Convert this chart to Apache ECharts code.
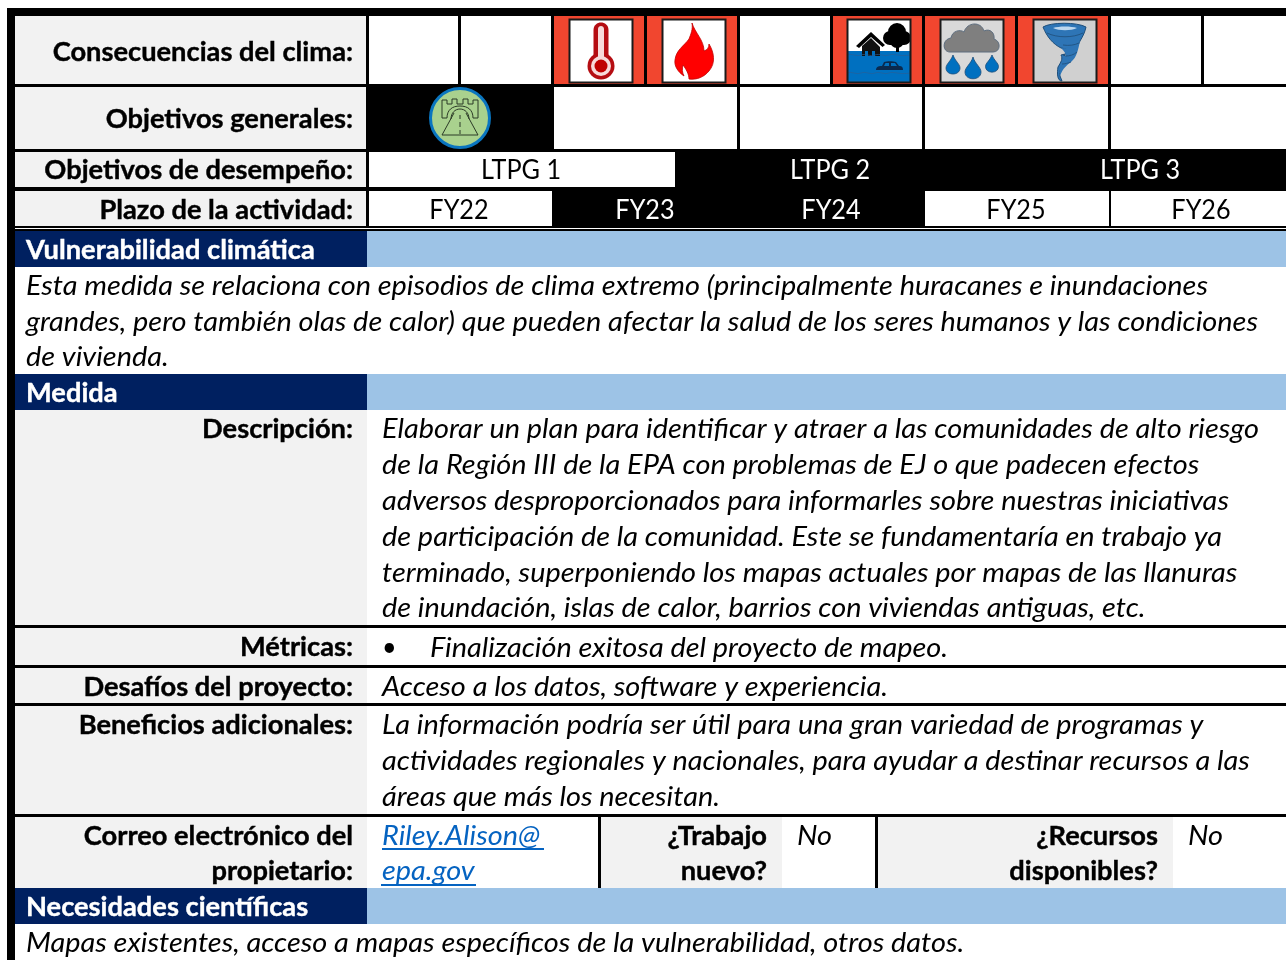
<!DOCTYPE html>
<html>
<head>
<meta charset="utf-8">
<title>Consecuencias del clima</title>
<script src="https://cdn.jsdelivr.net/npm/echarts@6/dist/echarts.min.js"></script>
<style>
html, body { margin: 0; padding: 0; background: #fff; }
#chart { width: 1286px; height: 960px; }
</style>
</head>
<body>
<div id="chart"></div>
<script>
// table content
const rowLabels = ['Consecuencias del clima:', 'Objetivos generales:', 'Objetivos de desempeño:', 'Plazo de la actividad:'];
const climateIcons = [null, null, 'thermometer', 'flame', null, 'flood', 'rain', 'tornado', null, null];
const goalFlags = [1, 0, 0, 0, 0];
const ltpgLabels = ['LTPG 1', 'LTPG 2', 'LTPG 3'];
const ltpgFlags = [0, 1, 1];
const fyLabels = ['FY22', 'FY23', 'FY24', 'FY25', 'FY26'];
const fyFlags = [0, 1, 1, 0, 0];
const sectionTitles = ['Vulnerabilidad climática', 'Medida', 'Necesidades científicas'];
const vulnerabilityLines = [
  'Esta medida se relaciona con episodios de clima extremo (principalmente huracanes e inundaciones',
  'grandes, pero también olas de calor) que pueden afectar la salud de los seres humanos y las condiciones',
  'de vivienda.'
];
const detailLabels = ['Descripción:', 'Métricas:', 'Desafíos del proyecto:', 'Beneficios adicionales:'];
const descriptionLines = [
  'Elaborar un plan para identificar y atraer a las comunidades de alto riesgo',
  'de la Región III de la EPA con problemas de EJ o que padecen efectos',
  'adversos desproporcionados para informarles sobre nuestras iniciativas',
  'de participación de la comunidad. Este se fundamentaría en trabajo ya',
  'terminado, superponiendo los mapas actuales por mapas de las llanuras',
  'de inundación, islas de calor, barrios con viviendas antiguas, etc.'
];
const metricLine = 'Finalización exitosa del proyecto de mapeo.';
const challengeLine = 'Acceso a los datos, software y experiencia.';
const benefitLines = [
  'La información podría ser útil para una gran variedad de programas y',
  'actividades regionales y nacionales, para ayudar a destinar recursos a las',
  'áreas que más los necesitan.'
];
const ownerLabels = ['Correo electrónico del', 'propietario:'];
const ownerLinks = ['Riley.Alison@', 'epa.gov'];
const newWorkLabels = ['¿Trabajo', 'nuevo?'];
const resourceLabels = ['¿Recursos', 'disponibles?'];
const answers = ['No', 'No'];
const scienceLine = 'Mapas existentes, acceso a mapas específicos de la vulnerabilidad, otros datos.';

// layout, in axis units
const W = 1286, H = 960;
const climateCols = [[369, 458], [461, 551], [554, 644], [647, 737], [740, 830], [833, 922], [925, 1015], [1018, 1108], [1111, 1201], [1204, 1286]];
const goalCols = [[366, 554], [554, 737], [740, 922], [925, 1108], [1111, 1286]];
const ltpgCols = [[369, 675], [675, 980], [985, 1286]];
const ltpgCenters = [521, 830, 1140];
const fyCols = [[369, 552], [552, 738], [738, 925], [925, 1109], [1111, 1286]];
const fyCenters = [459, 645, 831, 1016, 1201];
const rows = [[16, 84], [87, 149], [152, 187], [191, 226]];
const rowCenters = [53, 120, 171, 211];
const iconBoxes = { thermometer: 569, flame: 662, flood: 847, rain: 940, tornado: 1033 };

const GREY = '#f2f2f2', NAVY = '#002060', BLUE = '#9dc3e6', RED = '#f1462f', WHITE = '#ffffff', LINK = '#0563c1';

const cells = [];
const addCell = (x0, y0, x1, y1, color) => cells.push([x0, y0, x1, y1, color]);

addCell(7, 8, W, H, '#000000');
rows.forEach(r => addCell(15, r[0], 366, r[1], GREY));
climateCols.forEach((c, i) => addCell(c[0], rows[0][0], c[1], rows[0][1], climateIcons[i] ? RED : WHITE));
goalCols.forEach((c, i) => { if (!goalFlags[i]) addCell(c[0], rows[1][0], c[1], rows[1][1], WHITE); });
ltpgCols.forEach((c, i) => { if (!ltpgFlags[i]) addCell(c[0], rows[2][0], c[1], rows[2][1], WHITE); });
fyCols.forEach((c, i) => { if (!fyFlags[i]) addCell(c[0], rows[3][0], c[1], rows[3][1], WHITE); });
addCell(15, 228, W, 229, WHITE);
[[231, 267], [374, 410], [888, 924]].forEach(h => {
  addCell(15, h[0], 367, h[1], NAVY);
  addCell(367, h[0], W, h[1], BLUE);
});
addCell(15, 267, W, 374, WHITE);
[[410, 625], [628, 665], [668, 703], [706, 814]].forEach(r => {
  addCell(15, r[0], 367, r[1], GREY);
  addCell(367, r[0], W, r[1], WHITE);
});
addCell(15, 817, 367, 888, GREY);
addCell(367, 817, 598, 888, WHITE);
addCell(601, 817, 782, 888, GREY);
addCell(782, 817, 875, 888, WHITE);
addCell(878, 817, 1173, 888, GREY);
addCell(1173, 817, W, 888, WHITE);
addCell(15, 924, W, H, WHITE);
// link underlines
addCell(382, 848, 544, 850, LINK);
addCell(381, 884, 476, 886, LINK);

const texts = [];
const addText = (x, y, text, kind, color, align) => texts.push({ x, y, text, kind, color: color || '#000000', align: align || 'left' });

rowLabels.forEach((t, i) => addText(353, rowCenters[i], t, 'bold', null, 'right'));
ltpgLabels.forEach((t, i) => addText(ltpgCenters[i], 171, t, 'plain', ltpgFlags[i] ? WHITE : null, 'center'));
fyLabels.forEach((t, i) => addText(fyCenters[i], 211, t, 'plain', fyFlags[i] ? WHITE : null, 'center'));
[251, 394, 908].forEach((y, i) => addText(26, y, sectionTitles[i], 'bold', WHITE));
[287, 323, 358].forEach((y, i) => addText(26, y, vulnerabilityLines[i], 'italic'));
[430, 648, 688, 726].forEach((y, i) => addText(353, y, detailLabels[i], 'bold', null, 'right'));
[430, 466, 502, 538, 574, 609].forEach((y, i) => addText(382, y, descriptionLines[i], 'italic'));
addText(382, 648, '•', 'plain');
addText(430, 649, metricLine, 'italic');
addText(382, 688, challengeLine, 'italic');
[726, 762, 798].forEach((y, i) => addText(382, y, benefitLines[i], 'italic'));
[837, 872].forEach((y, i) => {
  addText(353, y, ownerLabels[i], 'bold', null, 'right');
  addText(382, y, ownerLinks[i], 'italic', LINK);
  addText(767, y, newWorkLabels[i], 'bold', null, 'right');
  addText(1158, y, resourceLabels[i], 'bold', null, 'right');
});
addText(797, 837, answers[0], 'italic');
addText(1188, 837, answers[1], 'italic');
addText(26, 944, scienceLine, 'italic');

const fonts = {
  bold: { font: 'bold 27px Lato', scaleX: 1.01, stroke: 0.4, dy: -1 },
  plain: { font: '26px Lato', scaleX: 0.97, stroke: 0, dy: 0 },
  italic: { font: 'italic 27px Lato', scaleX: 1.07, stroke: 0, dy: -1 }
};

// icons, drawn in a 64x64 box
const circle = (cx, cy, r) => `M${cx - r} ${cy}A${r} ${r} 0 1 0 ${cx + r} ${cy}A${r} ${r} 0 1 0 ${cx - r} ${cy}Z`;
const drop = (cx, top, h, r) => `M${cx} ${top}C${cx + 2} ${top + h * 0.3} ${cx + r} ${top + h * 0.45} ${cx + r} ${top + h - r}C${cx + r} ${top + h + 1} ${cx - r} ${top + h + 1} ${cx - r} ${top + h - r}C${cx - r} ${top + h * 0.45} ${cx - 2} ${top + h * 0.3} ${cx} ${top}Z`;

const iconParts = {
  thermometer: {
    bg: WHITE,
    parts: [
      { d: 'M24.5 11C24.5 1 39.5 1 39.5 11L39.5 36L24.5 36Z', fill: '#b50d12' },
      { d: circle(32, 47, 13.5), fill: '#b50d12' },
      { d: 'M29 10C29 6 35 6 35 10L35 38L29 38Z', fill: '#f7dada' },
      { d: circle(32, 47, 10), fill: '#f7dada' },
      { d: circle(32, 47, 6.5), fill: '#c00000' }
    ]
  },
  flame: {
    bg: WHITE,
    parts: [
      { d: 'M30 4C33 14 42 21 42 32C45 31 47 29 47 25C52 33 54 44 47 52C42 58 35 61 27 60C27 55 24 50 21 46C20 50 20 53 22 57C16 53 12 47 13 41C14 31 22 27 27 20C29 15 31 10 30 4Z', fill: '#ff0000', stroke: '#c00000', lw: 0.8 }
    ]
  },
  flood: {
    bg: WHITE,
    parts: [
      { d: 'M0 32L64 32L64 64L0 64Z', fill: '#0070c0' },
      { d: 'M49 20L52 20L52 33L49 33Z', fill: '#000000' },
      { d: circle(43, 19, 7) + circle(57, 19, 7) + circle(50, 13, 9) + circle(50, 22, 7), fill: '#000000' },
      { d: 'M24 13L38 26L35.5 28L24 18L12 29L9 27Z', fill: '#000000' },
      { d: 'M15 27L24 19L33 28L33 37L28 37L28 32L25 32L25 37L21 37L21 32L18 32L18 37L15 37Z', fill: '#111111' },
      { d: 'M29 51C29 47 33 47 35 47L37 43C40 42 46 42 49 43L52 47C55 47 56 48 56 51Z', fill: '#0a2a4f' },
      { d: 'M38.5 44L42 44L42 47L37 47ZM44 44L48 44L50 47L44 47Z', fill: '#0070c0' },
      { d: 'M0 36C5 34 9 38 14 36C19 34 23 38 28 36C33 34 37 38 42 36C47 34 51 38 64 36', stroke: '#2a5f95', lw: 0.7 },
      { d: 'M0 54C5 52 9 56 14 54C19 52 23 56 28 54C33 52 37 56 42 54C47 52 51 56 64 54', stroke: '#2a5f95', lw: 0.7 }
    ]
  },
  rain: {
    bg: '#d9d9d9',
    parts: [
      { d: 'M10 33C2 33 2 20 11 19C12 12 20 10 24 13C27 3 41 2 44 12C50 9 55 14 54 20C61 22 61 33 53 33Z', fill: '#7f7f7f', stroke: '#5f6f80', lw: 1 },
      { d: drop(13, 36, 20, 7), fill: '#0070c0', stroke: '#1f4e79', lw: 0.8 },
      { d: drop(33, 38, 23, 8), fill: '#0070c0', stroke: '#1f4e79', lw: 0.8 },
      { d: drop(52, 36, 18, 6.5), fill: '#0070c0', stroke: '#1f4e79', lw: 0.8 }
    ]
  },
  tornado: {
    bg: '#d0d0d0',
    parts: [
      { d: 'M10 8C14 18 20 25 28 29C40 31 36 34 30 36C37 38 40 40 34 45C29 48 25 52 27 57L29 62C24 62 24 54 25 48C28 43 30 40 28 36C38 34 44 30 47 22C50 17 52 13 53 8C44 3 18 3 10 8Z', fill: '#2e75b6', stroke: '#1f4e79', lw: 1 },
      { d: 'M28 29C34 30 40 28 47 22C45 31 44 38 38 43C34 46 30 49 27 57C25 51 29 45 32 41C35 37 32 33 28 29Z', fill: '#2e75b6' },
      { d: 'M20 9C26 7 38 7 44 9C38 12 26 12 20 9Z', fill: '#bdd7ee' },
      { d: 'M14 14C24 19 40 19 50 14', stroke: '#1f4e79', lw: 0.8 },
      { d: 'M30 26C36 27 42 26 46 24M33 37C36 37 41 36 44 33M29 45C32 45 35 44 38 43', stroke: '#1f4e79', lw: 0.8 }
    ]
  }
};

// emblem, drawn around its centre
const emblemParts = [
  { d: circle(0, 0, 29.5), fill: '#a9d18e', stroke: '#0a75bf', lw: 3 },
  { d: 'M-18 0L-18 -18L-13 -18L-13 -14L-8 -14L-8 -19L-3 -19L-3 -14L3 -14L3 -19L8 -19L8 -14L13 -14L13 -18L18 -18L18 0L13 0C13 -8 8 -12 0 -12C-8 -12 -13 -8 -13 0Z', stroke: '#2b3a26', lw: 1 },
  { d: 'M-9 1C-9 -5 -5 -9 0 -9C5 -9 9 -5 9 1', stroke: '#2b3a26', lw: 1 },
  { d: 'M-6 -5L-18 17L18 17L6 -5', stroke: '#2b3a26', lw: 1 },
  { d: 'M0 -3L0 1M0 4L0 9M0 12L0 16', stroke: '#2b3a26', lw: 1 }
];

const toChildren = parts => parts.map(p => ({
  type: 'path',
  shape: { pathData: p.d },
  style: { fill: p.fill || 'none', stroke: p.stroke || 'none', lineWidth: p.lw || 0 }
}));

const iconNames = Object.keys(iconBoxes);

const option = {
  animation: false,
  grid: { left: 0, right: 0, top: 0, bottom: 0 },
  xAxis: { type: 'value', min: 0, max: W, show: false },
  yAxis: { type: 'value', min: 0, max: H, inverse: true, show: false },
  series: [
    {
      type: 'custom',
      name: 'celdas',
      silent: true,
      clip: false,
      encode: { x: [0, 2], y: [1, 3] },
      data: cells.map(c => c.slice(0, 4)),
      renderItem: (params, api) => {
        const p0 = api.coord([api.value(0), api.value(1)]);
        const p1 = api.coord([api.value(2), api.value(3)]);
        return {
          type: 'rect',
          shape: { x: p0[0], y: p0[1], width: p1[0] - p0[0], height: p1[1] - p0[1] },
          style: { fill: cells[params.dataIndex][4] }
        };
      }
    },
    {
      type: 'custom',
      name: 'iconos',
      silent: true,
      clip: false,
      encode: { x: 0, y: 1 },
      data: iconNames.map(n => [iconBoxes[n], 19]),
      renderItem: (params, api) => {
        const p = api.coord([api.value(0), api.value(1)]);
        const icon = iconParts[iconNames[params.dataIndex]];
        return {
          type: 'group',
          x: p[0],
          y: p[1],
          children: [
            { type: 'rect', shape: { x: 0, y: 0, width: 64, height: 64 }, style: { fill: icon.bg } }
          ].concat(toChildren(icon.parts), [
            { type: 'rect', shape: { x: 0.5, y: 0.5, width: 63, height: 63 }, style: { fill: 'none', stroke: '#1a1a1a', lineWidth: 2 } }
          ])
        };
      }
    },
    {
      type: 'custom',
      name: 'emblema',
      silent: true,
      clip: false,
      encode: { x: 0, y: 1 },
      data: [[460, 118]],
      renderItem: (params, api) => {
        const p = api.coord([api.value(0), api.value(1)]);
        return { type: 'group', x: p[0], y: p[1], children: toChildren(emblemParts) };
      }
    },
    {
      type: 'custom',
      name: 'textos',
      silent: true,
      clip: false,
      encode: { x: 0, y: 1 },
      data: texts.map(t => [t.x, t.y]),
      renderItem: (params, api) => {
        const t = texts[params.dataIndex];
        const f = fonts[t.kind];
        const p = api.coord([api.value(0), api.value(1)]);
        return {
          type: 'text',
          x: p[0],
          y: p[1] + f.dy,
          scaleX: f.scaleX,
          style: {
            text: t.text,
            font: f.font,
            fill: t.color,
            stroke: f.stroke ? t.color : 'none',
            lineWidth: f.stroke,
            align: t.align,
            verticalAlign: 'middle'
          }
        };
      }
    }
  ]
};

const chart = echarts.init(document.getElementById('chart'));
chart.setOption(option);
window.addEventListener('resize', () => chart.resize());
</script>
</body>
</html>
